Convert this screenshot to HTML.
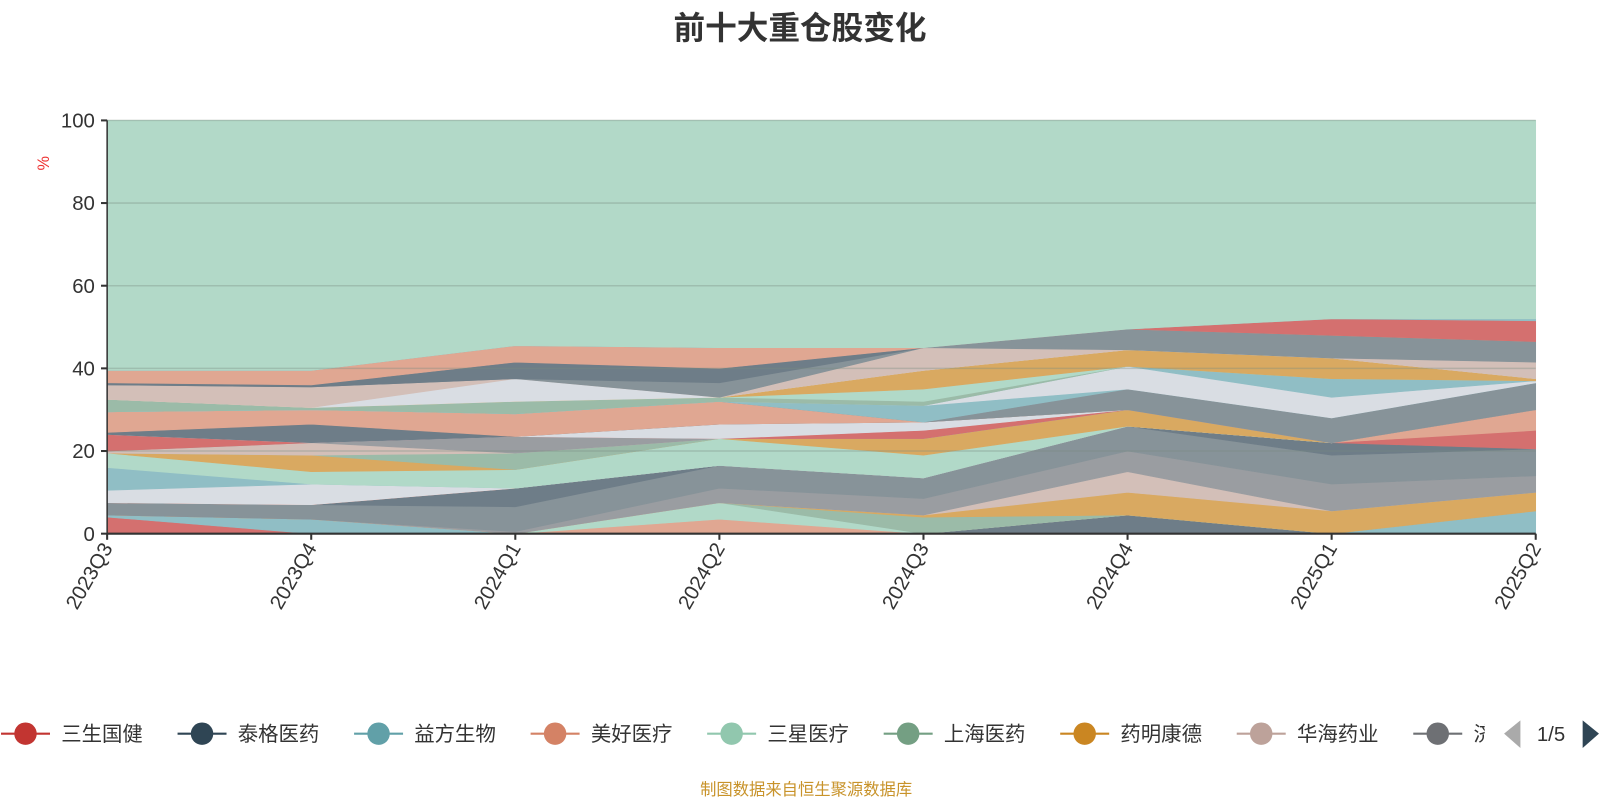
<!DOCTYPE html>
<html><head><meta charset="utf-8"><style>
body{margin:0;background:#fff;width:1600px;height:800px;overflow:hidden;font-family:"Liberation Sans","Noto Sans CJK SC",sans-serif}
svg text{font-family:"Liberation Sans","Noto Sans CJK SC",sans-serif}
</style></head><body>
<svg id="c" width="1600" height="800" viewBox="0 0 1568 784">
<text x="784" y="38" text-anchor="middle" font-size="31" font-weight="bold" fill="#333">前十大重仓股变化</text>
<text x="48" y="160" font-size="16" fill="#e33" transform="rotate(-90 48 160)" text-anchor="middle">%</text>
<g id="areas"></g>
<g id="axes"></g>
<g id="legend"></g>
<text x="790" y="779" text-anchor="middle" font-size="16" fill="#c8932a">制图数据来自恒生聚源数据库</text>
</svg>
<script>
const categories=["2023Q3","2023Q4","2024Q1","2024Q2","2024Q3","2024Q4","2025Q1","2025Q2"];
const yTicks=[0,20,40,60,80,100];
const seriesColors=["#d4706f","#90bec5","#6e7d88","#e0a792","#b1d9c8","#9bbba8","#d9a961","#d3bfb8","#9a9da1","#879399","#6e7d88","#d4706f","#e0a792","#d9dde3","#90bec5","#b1d9c8","#d9a961","#9bbba8","#d3bfb8","#9a9da1","#d4706f","#d9dde3","#6e7d88","#e0a792","#879399","#90bec5","#d9dde3","#90bec5","#9bbba8","#b1d9c8","#d9a961","#d9dde3","#d3bfb8","#879399","#6e7d88","#e0a792","#d4706f","#90bec5"];
const s1=[4,0,0,0,0,0,0,0];
const s2=[0.5,3.5,0,0,0,0,0,5.5];
const s3=[0,0,0,0,0,4.5,0,0];
const s4=[0,0,0,3.5,0,0,0,0];
const s5=[0,0,0,4,0,0,0,0];
const s6=[0,0,0,0,4,0,0,0];
const s7=[0,0,0,0,0.5,5.5,5.5,4.5];
const s8=[0,0,0,0,0,5,0,0];
const s9=[0,0,0.5,3.5,4,5,6.5,4];
const s10=[3,3.5,6,5.5,5,6,7,6.5];
const s11=[0,0,4.5,0,0,0,3,0];
const s12=[0,0,0,0,0,0,0,4.5];
const s13=[0,0,0,0,0,0,0,5];
const s14=[3,5,0,0,0,0,0,0];
const s15=[5.5,0,0,0,0,0,0,0];
const s16=[3.5,3,4.5,6.5,5.5,0,0,0];
const s17=[0,4,0,0,4,4,0,0];
const s18=[0,0,4,0,0,0,0,0];
const s19=[0.5,3,0,0,0,0,0,0];
const s20=[0,0,4,0,0,0,0,0];
const s21=[4,0,0,0,2,0,0,0];
const s22=[0,0,0,3.5,2,0,0,0];
const s23=[0.5,4.5,0,0,0,0,0,0];
const s24=[5,3.5,5.5,5.5,0,0,0,0];
const s25=[0,0,0,0,0,5,6,6.5];
const s26=[0,0,0,0,4,0,0,0];
const s27=[0,0,0,0,0,5.5,5,0.5];
const s28=[0,0,0,0,0,0,4.5,0];
const s29=[3,0.5,3,1,1,0,0,0];
const s30=[0,0,0,0,3,0,0,0];
const s31=[0,0,0,0,4.5,4,5,0.5];
const s32=[0,0,5.5,0,0,0,0,0];
const s33=[3.5,5,0,0,5.5,0,0,4];
const s34=[0,0,0,3.5,0,5,5.5,5];
const s35=[0.5,0.5,4,3.5,0,0,0,0];
const s36=[3,3.5,4,5,0,0,0,0];
const s37=[0,0,0,0,0,0,4,5];
const s38=[0,0,0,0,0,0,0,0.5];
const seriesList=[s1,s2,s3,s4,s5,s6,s7,s8,s9,s10,s11,s12,s13,s14,s15,s16,s17,s18,s19,s20,s21,s22,s23,s24,s25,s26,s27,s28,s29,s30,s31,s32,s33,s34,s35,s36,s37,s38];
const legendNames=["三生国健","泰格医药","益方生物","美好医疗","三星医疗","上海医药","药明康德","华海药业","济川药业"];
const legendColors=["#c23531","#2f4554","#61a0a8","#d48265","#91c7ae","#749f83","#ca8622","#bda29a","#6e7074"];
const NS="http://www.w3.org/2000/svg";
const X0=105,X1=1505,Y0=523,Y1=118;
const xs=i=>X0+(X1-X0)*i/(categories.length-1);
const ys=v=>Y0-(Y0-Y1)*v/100;
function mk(t,a,p){const e=document.createElementNS(NS,t);for(const k in a)e.setAttribute(k,a[k]);p.appendChild(e);return e;}
const areas=document.getElementById('areas'),axes=document.getElementById('axes'),legend=document.getElementById('legend');
let base=categories.map(()=>0);
function drawLayer(vals,color,idx){
  const top=base.map((b,i)=>b+vals[i]);
  let d="M"+top.map((v,i)=>xs(i)+","+ys(v)).join("L");
  for(let i=base.length-1;i>=0;i--)d+="L"+xs(i)+","+ys(base[i]);
  const p=mk('path',{d:d+"Z",fill:color,stroke:color,'stroke-width':0.6},areas);
  
  
  base=top;
}
seriesList.forEach((s,i)=>drawLayer(s,seriesColors[i],i+1));
drawLayer(base.map(b=>100-b),"#b2d9c8","other");
yTicks.forEach(t=>{
  const g=mk('line',{x1:X0,x2:X1,y1:ys(t),y2:ys(t),stroke:'rgba(120,140,130,0.35)','stroke-width':1.5},axes);
  
  
  mk('line',{x1:X0-6,x2:X0,y1:ys(t),y2:ys(t),stroke:'#333','stroke-width':2},axes);
  const tx=mk('text',{x:X0-12,y:ys(t)+7,'text-anchor':'end','font-size':20,fill:'#333'},axes);
  tx.textContent=t;
  
  
});
mk('line',{x1:X0,x2:X0,y1:Y1,y2:Y0,stroke:'#333','stroke-width':1.5},axes);
mk('line',{x1:X0,x2:X1,y1:Y0,y2:Y0,stroke:'#333','stroke-width':2},axes);
categories.forEach((c,i)=>{
  mk('line',{x1:xs(i),x2:xs(i),y1:Y0,y2:Y0+6,stroke:'#333','stroke-width':2},axes);
  const tx=mk('text',{x:xs(i)+6,y:Y0+14,'text-anchor':'end','font-size':20,fill:'#333',transform:`rotate(-60 ${xs(i)+6} ${Y0+14})`},axes);
  tx.textContent=c;
  
  
});
legendNames.forEach((n,i)=>{
  const cx=25+173*i;
  const g=mk('g',{},legend);
  
  
  mk('line',{x1:cx-24,x2:cx+24,y1:719,y2:719,stroke:legendColors[i],'stroke-width':2},g);
  mk('circle',{cx:cx,cy:719,r:11,fill:legendColors[i]},g);
  const t=mk('text',{x:cx+35,y:726,'font-size':20,fill:'#333'},g);
  t.textContent=n;
});
mk('rect',{x:1455,y:690,width:145,height:60,fill:'#fff'},legend);
const pl=mk('path',{d:'M1490,706 L1474,719 L1490,733Z',fill:'#aaa'},legend);


const pt=mk('text',{x:1520,y:726,'font-size':20,fill:'#333','text-anchor':'middle'},legend);
pt.textContent='1/5';


const pn=mk('path',{d:'M1551,706 L1567,719 L1551,733Z',fill:'#2f4554'},legend);


</script>
</body></html>
